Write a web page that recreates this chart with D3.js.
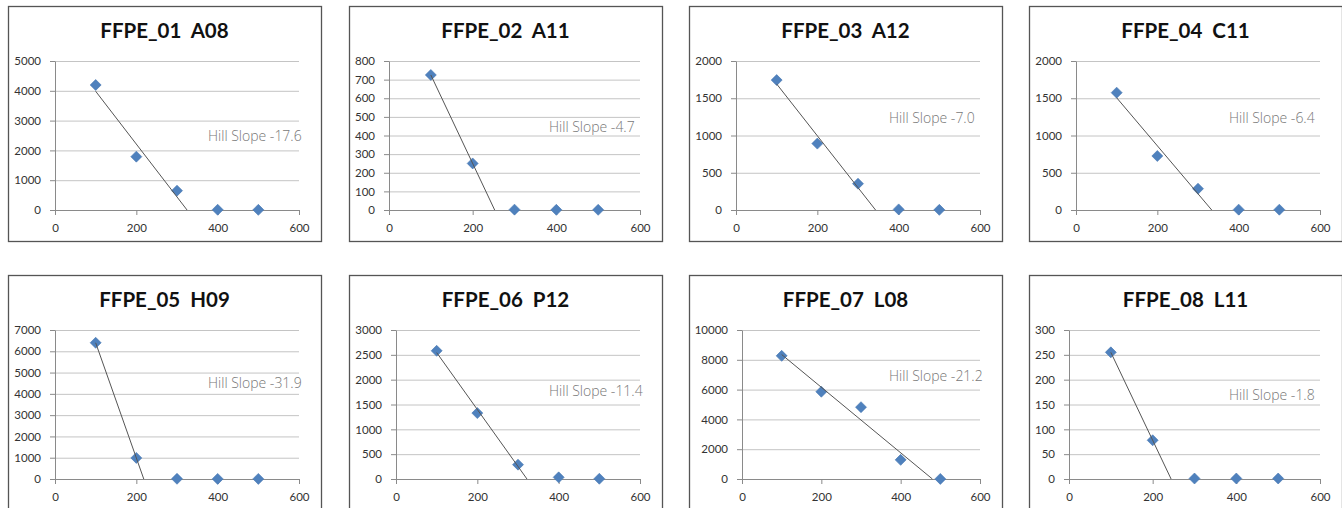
<!DOCTYPE html>
<html>
<head>
<meta charset="utf-8">
<script src="https://cdn.jsdelivr.net/npm/d3@7"></script>
<style>
  body { margin: 0; background: #fff; }
</style>
</head>
<body>
<div id="chart"></div>
<script>
// chart data
const titles = ["FFPE_01  A08", "FFPE_02  A11", "FFPE_03  A12", "FFPE_04  C11",
                "FFPE_05  H09", "FFPE_06  P12", "FFPE_07  L08", "FFPE_08  L11"];
const concentrations = [100, 200, 300, 400, 500];
const signal01 = [4195, 1790, 649, 8, 5];
const signal02 = [725, 250, 2, 1, 1];
const signal03 = [1744, 891, 353, 8, 2];
const signal04 = [1575, 725, 286, 5, 4];
const signal05 = [6400, 990, 10, 5, 5];
const signal06 = [2581, 1327, 289, 33, 5];
const signal07 = [8266, 5856, 4820, 1284, 5];
const signal08 = [255, 78, 1, 1, 1];
const signals = [signal01, signal02, signal03, signal04, signal05, signal06, signal07, signal08];
const slopeLabels = ["Hill Slope -17.6", "Hill Slope -4.7", "Hill Slope -7.0", "Hill Slope -6.4",
                     "Hill Slope -31.9", "Hill Slope -11.4", "Hill Slope -21.2", "Hill Slope -1.8"];
const labelLevels = [2300, 420, 1170, 1170, 4270, 1670, 6600, 160]; // y value where the label sits
const fitCounts = [3, 2, 3, 3, 2, 3, 4, 2]; // leading points used by the trend line
const yMaxes = [5000, 800, 2000, 2000, 7000, 3000, 10000, 300];
const ySteps = [1000, 100, 500, 500, 1000, 500, 2000, 50];
const xTicks = [0, 200, 400, 600];

const W = 1342, H = 508;
const panelW = 313, panelH = 235;
const colX = [8, 349, 689, 1029], rowY = [6, 275];
const plotTop = 55, plotBottom = 204, plotRight = 291;
const tickFont = "11.5px";

const svg = d3.select("#chart").append("svg")
    .attr("width", W)
    .attr("height", H);

// least squares line through the first n points
function fitLine(xs, ys, n) {
    const px = xs.slice(0, n), py = ys.slice(0, n);
    const mx = d3.mean(px), my = d3.mean(py);
    let sxy = 0, sxx = 0;
    px.forEach((v, i) => { sxy += (v - mx) * (py[i] - my); sxx += (v - mx) * (v - mx); });
    const slope = sxy / sxx;
    return { slope: slope, intercept: my - slope * mx };
}

titles.forEach((title, i) => {
    const g = svg.append("g")
        .attr("transform", `translate(${colX[i % 4]},${rowY[Math.floor(i / 4)]})`);

    g.append("rect")
        .attr("x", 0.5).attr("y", 0.5)
        .attr("width", panelW).attr("height", panelH)
        .attr("fill", "#fff")
        .attr("stroke", "#555")
        .attr("stroke-width", 1.3);

    g.append("text")
        .attr("x", panelW / 2)
        .attr("y", 32)
        .attr("text-anchor", "middle")
        .attr("xml:space", "preserve")
        .style("white-space", "pre")
        .style("font-family", "Lato, sans-serif")
        .style("font-weight", "bold")
        .style("font-size", "20.5px")
        .style("fill", "#111")
        .text(title);

    const yTicks = d3.range(0, yMaxes[i] + 1, ySteps[i]);

    // measure the widest tick label so the plot starts right after it
    const probe = g.append("text")
        .style("font-family", "Lato, sans-serif")
        .style("font-size", tickFont)
        .text(d3.max(yTicks).toString());
    const labelW = probe.node().getComputedTextLength();
    probe.remove();
    const left = Math.round(labelW + 20);

    const x = d3.scaleLinear().domain([0, 600]).range([left, plotRight]);
    const y = d3.scaleLinear().domain([0, yMaxes[i]]).range([plotBottom, plotTop]);

    // horizontal grid lines
    g.append("g")
        .attr("transform", `translate(${left},0)`)
        .call(d3.axisLeft(y).tickValues(yTicks).tickSize(-(plotRight - left)).tickFormat(""))
        .call(a => a.select(".domain").remove())
        .selectAll("line").attr("stroke", "#c4c4c4");

    const yAxis = g.append("g")
        .attr("transform", `translate(${left},0)`)
        .call(d3.axisLeft(y).tickValues(yTicks).tickFormat(d3.format("d"))
            .tickSize(5).tickSizeOuter(0).tickPadding(9));
    const xAxis = g.append("g")
        .attr("transform", `translate(0,${plotBottom})`)
        .call(d3.axisBottom(x).tickValues(xTicks).tickFormat(d3.format("d"))
            .tickSize(5).tickSizeOuter(0).tickPadding(9));

    [yAxis, xAxis].forEach(a => {
        a.select(".domain").attr("stroke", "#8a8a8a");
        a.selectAll("line").attr("stroke", "#8a8a8a");
        a.selectAll("text")
            .style("font-family", "Lato, sans-serif")
            .style("font-size", tickFont)
            .style("fill", "#333");
    });

    const pts = concentrations.map((c, k) => ({ c: c, v: signals[i][k] }));

    g.selectAll(".point")
        .data(pts)
        .enter().append("path")
        .attr("class", "point")
        .attr("d", "M0,-5.5L5.5,0L0,5.5L-5.5,0Z")
        .attr("transform", d => `translate(${x(d.c)},${y(d.v)})`)
        .attr("fill", "#4f81bd")
        .attr("stroke", "#4576b0")
        .attr("stroke-width", 0.6);

    // trend line from the first concentration down to where it meets zero
    const fit = fitLine(concentrations, signals[i], fitCounts[i]);
    const x0 = concentrations[0], x1 = -fit.intercept / fit.slope;
    g.append("line")
        .attr("x1", x(x0)).attr("y1", y(fit.intercept + fit.slope * x0))
        .attr("x2", x(x1)).attr("y2", y(0))
        .attr("stroke", "#555")
        .attr("stroke-width", 1);

    g.append("text")
        .attr("x", 200)
        .attr("y", y(labelLevels[i]))
        .style("font-family", "'Open Sans', sans-serif")
        .style("font-weight", 300)
        .style("font-size", "14px")
        .style("fill", "#777")
        .text(slopeLabels[i]);
});
</script>
</body>
</html>
